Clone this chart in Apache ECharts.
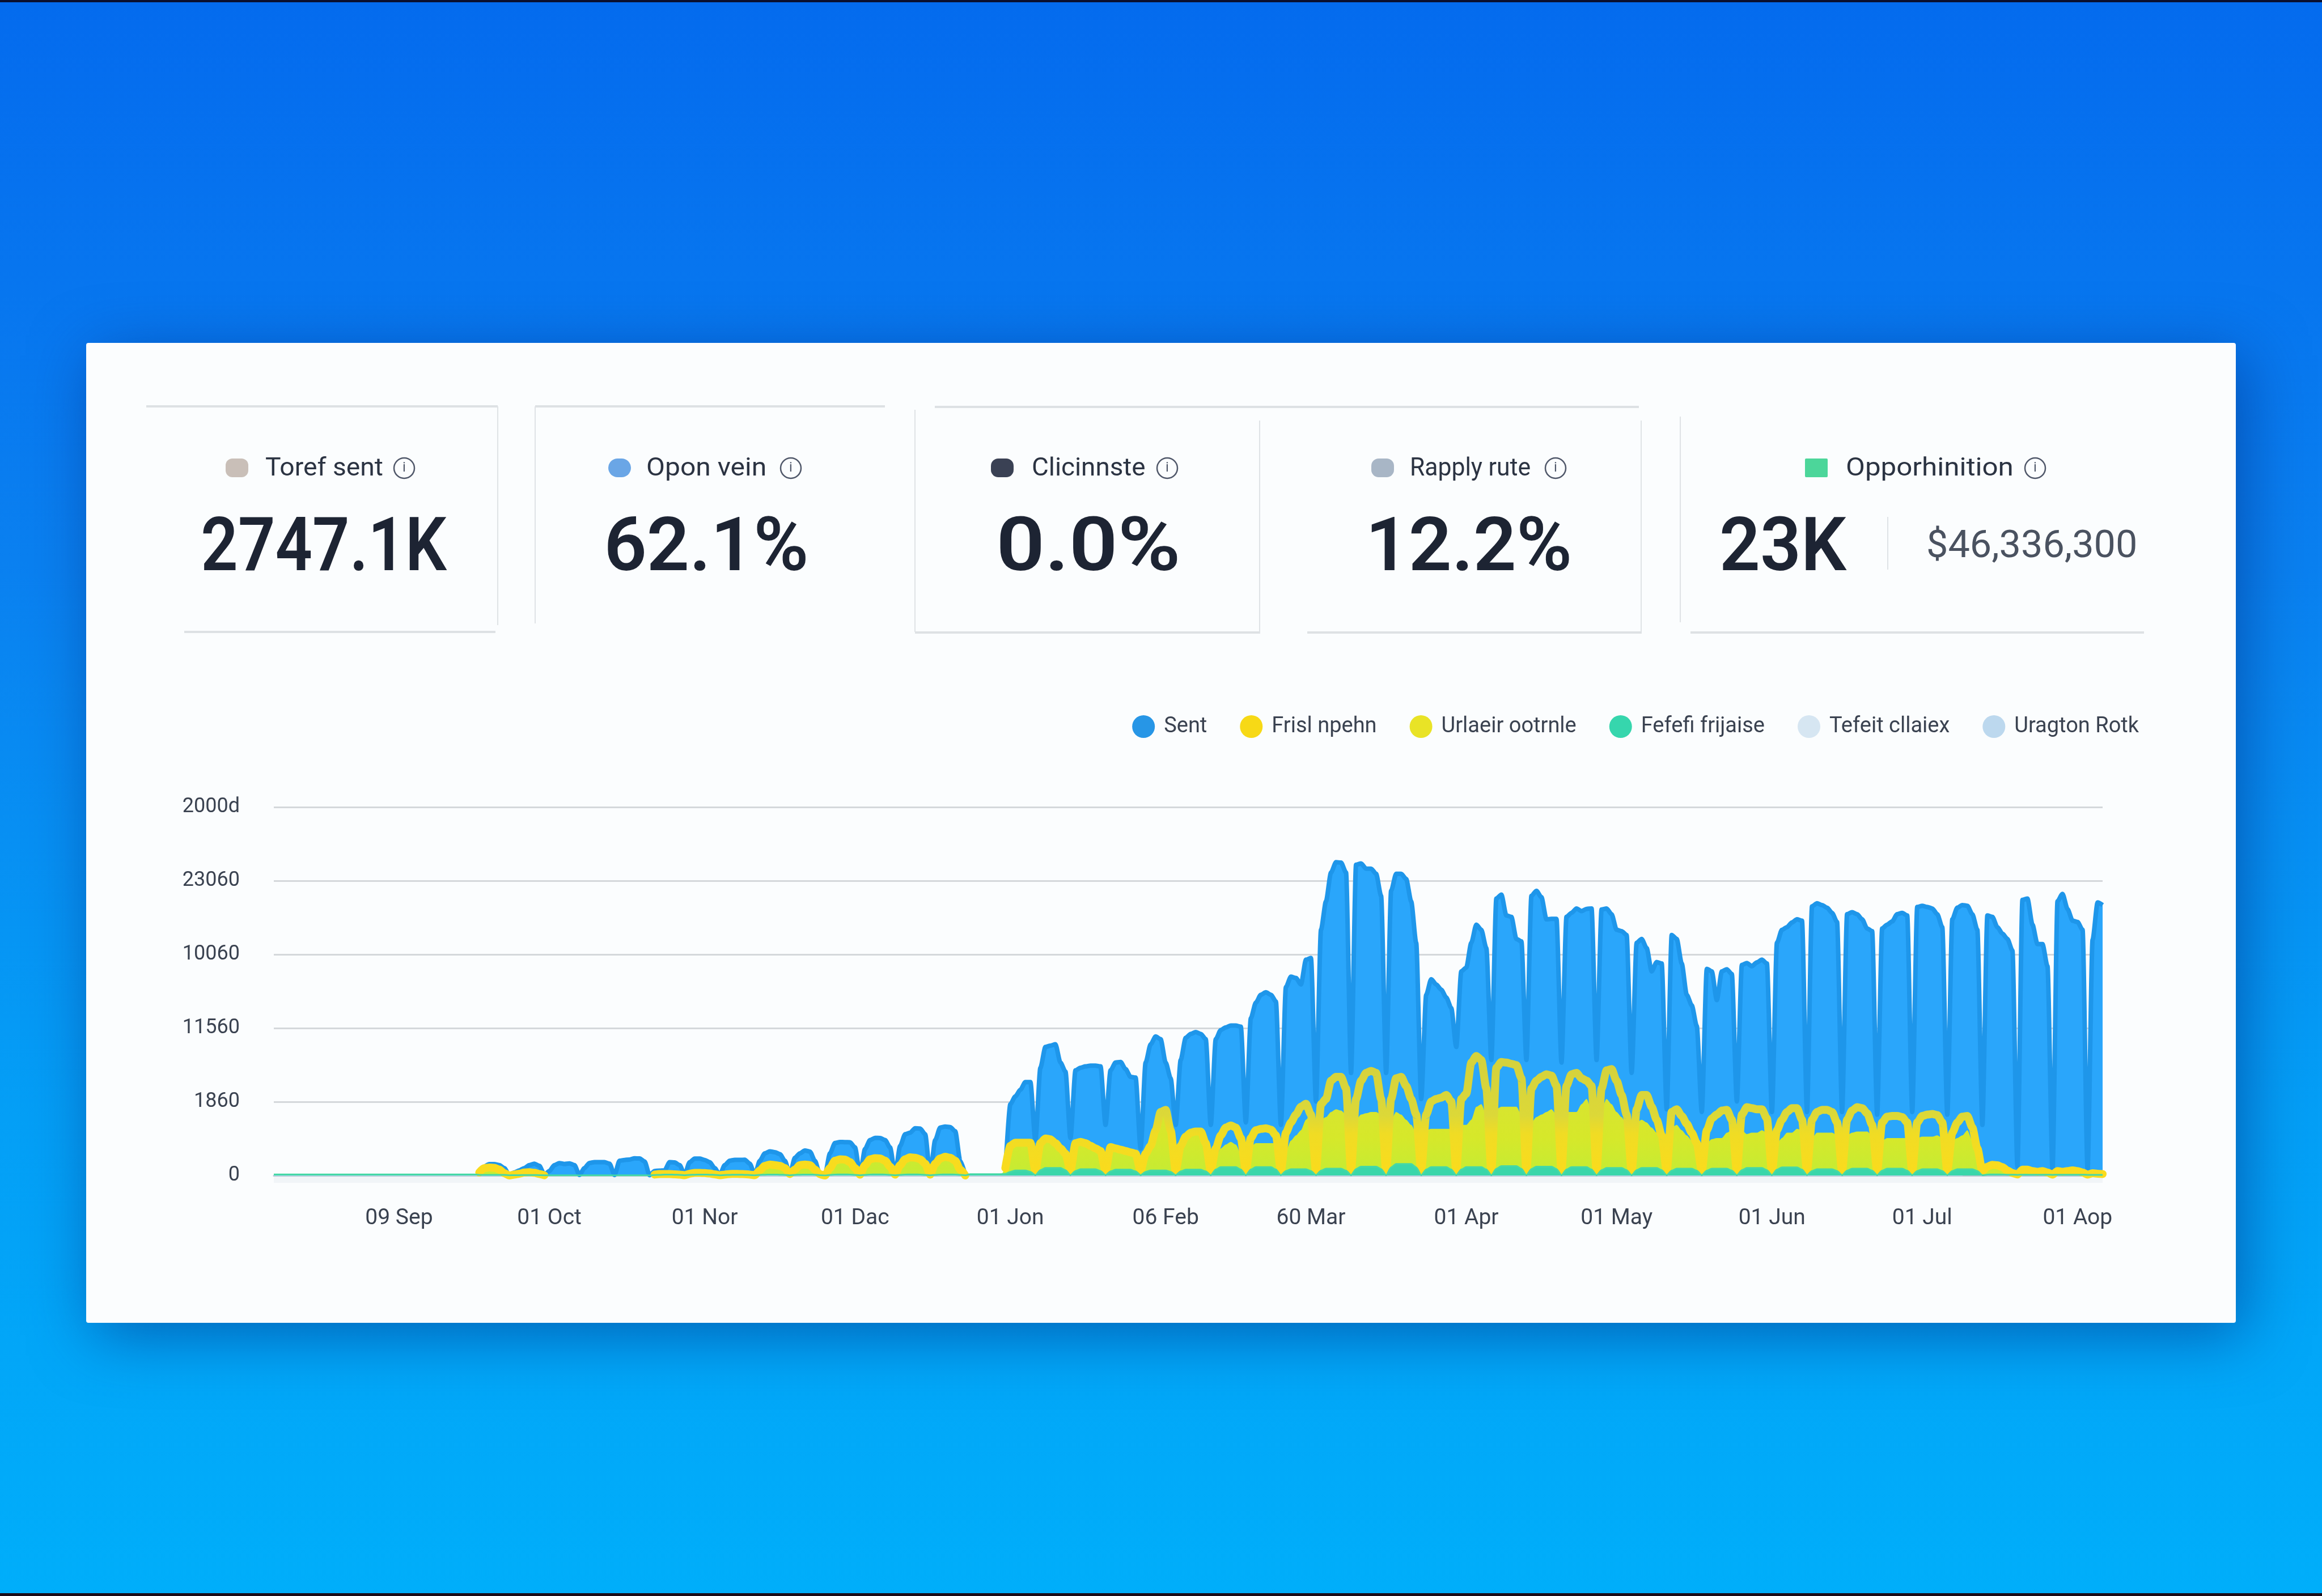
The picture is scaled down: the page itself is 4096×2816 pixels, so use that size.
<!DOCTYPE html>
<html><head><meta charset="utf-8">
<style>html,body{margin:0;padding:0;background:#0a7cf0}#c{width:4096px;height:2816px}</style>
<script src="https://cdn.jsdelivr.net/npm/echarts@6/dist/echarts.min.js"></script>
</head><body><div id="c"></div>
<script>
const yTickLabels = ['0','1860','11560','10060','23060','2000d'];
const xTickLabels = ['09 Sep','01 Oct','01 Nor','01 Dac','01 Jon','06 Feb','60 Mar','01 Apr','01 May','01 Jun','01 Jul','01 Aop'];
const seriesNames = ['Sent','Frisl npehn','Urlaeir ootrnle','Fefefi frijaise','Tefeit cllaiex','Uragton Rotk'];
const tileLabels = ['Toref sent','Opon vein','Clicinnste','Rapply rute','Opporhinition'];
const tileValues = ['2747.1K','62.1%','0.0%','12.2%','23K'];
const tileExtra = '$46,336,300';

const sent = [
null,null,null,null,null,null,
null,null,null,null,null,null,null, null,null,null,null,null,null,null, null,null,null,null,null,null,null, null,null,null,null,null,null,null, null,null,null,null,null,null,null,
150,600,770,770,700,500,30,
200,350,500,700,800,650,50,
300,700,840,780,820,700,40,
500,850,900,905,900,800,30,
1000,1050,1080,1165,1150,950,20,
300,330,350,900,880,700,60,
900,1145,1140,1050,900,500,30,
700,1000,1060,1060,1065,800,40,
1000,1500,1630,1580,1450,1000,80,
1200,1500,1690,1620,1000,50,40,
1500,2200,2270,2260,2250,1900,80,
1800,2400,2550,2540,2400,1900,80,
2000,2800,2900,3200,3180,2800,100,
2400,3250,3320,3280,3000,1000,30,
null,null,null,null,null,null,null,
300,4840,5370,5810,6340,6340,2370,
7310,8720,8810,8900,7660,7050,2540,
7130,7310,7400,7450,7450,7400,3430,
7130,7660,7700,7220,6690,6640,1840,
7660,8900,9430,9250,7660,6600,3430,
7840,9340,9610,9730,9610,9250,3430,
9250,9870,10050,10170,10170,10100,3600,
10670,11730,12260,12430,12260,11810,3430,
12790,13490,13400,12960,14640,14760,5020,
16670,18610,20560,21260,21230,20560,6960,
21090,21170,20820,20820,20470,18970,6960,
19320,20470,20470,20120,18610,15790,5190,
12260,13320,12960,12610,12080,11370,8720,
13850,14110,15790,17020,16670,15430,7840,
18790,19060,17640,17550,16050,15880,7840,
18970,19320,18880,17380,17410,17410,7660,
17550,17820,18120,17940,18090,18120,7840,
18050,18120,17730,16670,16580,16320,6960,
15790,16050,15430,13850,14480,14380,4490,
16320,16050,14380,12260,11550,10140,4310,
14020,13850,11900,13850,13990,13670,5020,
14290,14410,14200,14460,14640,14380,4310,
15790,16670,16850,17170,17380,17290,4310,
18260,18470,18350,18170,17820,17200,4310,
17730,17870,17730,17380,16760,16580,4130,
16760,17020,17240,17730,17820,17640,4310,
18220,18300,18220,18120,17730,16850,4130,
17380,18170,18350,18300,17730,16670,3430,
17640,17550,16850,16410,16050,15260,600,
18700,18790,17020,15700,15700,14200,400,
18610,19110,18080,17290,17200,16670,400,
16000,18530,18350];

const firstOpen = [
null,null,null,null,null,null,
null,null,null,null,null,null,null, null,null,null,null,null,null,null, null,null,null,null,null,null,null, null,null,null,null,null,null,null, null,null,null,null,null,null,null,
200,500,540,520,400,150,0,
60,120,200,220,180,100,10,
null,null,null,null,null,null,null,
null,null,null,null,null,null,null,
null,null,null,null,null,null,null,
60,100,100,100,80,60,20,
120,170,170,160,130,80,20,
60,100,110,100,90,60,20,
350,650,740,700,650,500,100,
400,700,740,700,400,80,0,
500,1000,1100,1080,900,500,60,
700,1100,1170,1150,1000,600,60,
700,1100,1230,1200,1100,800,60,
800,1150,1270,1200,1000,400,0,
null,null,null,null,null,null,null,
500,2010,2225,2225,2225,2225,300,
2190,2510,2455,2190,1840,1480,300,
2190,2280,2190,2010,1840,1660,300,
1925,1840,1750,1660,1570,1480,300,
1480,2010,3070,4310,4450,3070,300,
2010,2630,2900,2985,2985,2190,300,
1840,2720,3250,3390,3250,2540,300,
2540,3070,3160,3200,3110,2720,300,
2900,3600,4130,4660,4870,4130,300,
4840,5190,6430,6690,6690,5900,300,
5190,6430,6960,7100,6960,5190,300,
5190,6600,6690,6080,5190,4130,300,
4130,5020,5190,5280,5460,5020,300,
5190,5550,7660,8110,7840,5900,300,
7310,7700,7660,7580,7490,6600,300,
5900,6430,6690,6870,6780,6080,300,
6080,6870,6960,6600,6430,6080,300,
5900,7130,7220,6430,5460,4130,300,
4490,5460,5460,4660,3780,2720,300,
4310,4490,4040,3510,2900,2190,300,
3070,3870,4130,4400,4450,3780,300,
4130,4630,4570,4490,4490,3870,300,
3070,3780,4310,4570,4570,3780,300,
3780,4310,4450,4450,4310,3600,300,
3780,4400,4630,4570,4220,3430,300,
3600,3990,4040,4040,3960,3600,300,
3600,4040,4130,4170,4100,3600,300,
2900,3600,3990,4040,3250,1840,300,
600,725,690,565,335,160,70,
390,390,300,250,300,200,60,
300,250,300,350,300,200,60,
150,120,100];

const uniqueOpen = [
0,0,0,0,0,0,
0,0,0,0,0,0,0, 0,0,0,0,0,0,0, 0,0,0,0,0,0,0, 0,0,0,0,0,0,0, 0,0,0,0,0,0,0,
180,480,520,500,380,130,0,
50,100,180,200,160,90,0,
10,20,30,30,30,20,0,
20,30,30,30,30,20,0,
20,30,40,40,30,20,0,
50,90,100,90,70,50,10,
110,160,170,150,120,70,10,
50,90,100,90,80,50,10,
340,640,730,690,640,490,80,
390,690,730,690,390,70,0,
490,990,1090,1070,890,490,50,
690,1090,1160,1140,990,590,50,
690,1090,1220,1190,1090,790,50,
790,1140,1260,1190,990,390,0,
0,0,0,0,0,0,0,
400,1900,2200,2200,2200,2200,1130,
2100,2450,2400,2100,1800,1400,780,
2100,2200,2100,1950,1800,1600,1130,
1900,1800,1700,1600,1500,1400,1220,
1400,1950,3000,4250,4400,3000,1840,
1950,2600,2850,2950,2950,2100,1310,
1310,1840,2100,2280,2100,1480,1480,
1950,2190,2190,2190,2190,2190,1220,
1660,2370,2720,3070,3780,4130,3600,
3780,3960,4310,4490,4400,4130,2190,
3780,4130,4220,4310,4310,4130,2720,
3780,4310,4130,3780,3430,2900,2190,
3070,3160,3160,3160,3160,3160,2540,
3430,3430,3780,4660,4840,4130,3430,
4490,4660,4660,4660,4660,4130,1660,
3600,3960,4130,4310,4490,4130,1840,
4310,4310,4310,4840,5190,4490,3070,
4490,5190,4840,4310,3960,3430,2370,
3600,3780,3600,3250,2900,2370,2010,
3250,3430,3070,2720,2370,1840,1480,
2190,2460,2540,2540,2900,3070,2010,
3070,2810,2900,2900,3070,2900,2190,
2190,2540,2900,2900,3160,3070,2010,
2540,2900,2900,2900,2900,2720,2100,
2720,2900,2985,2985,2985,2720,2190,
2370,2540,2540,2540,2540,2540,2010,
2540,2630,2630,2630,2720,2540,2100,
2370,2540,2720,3070,2370,1130,300,
550,650,620,500,300,120,40,
350,350,260,210,260,160,30,
260,210,260,300,260,160,30,
120,90,70];

const firstReply = [
70,70,70,70,70,70,
70,70,70,70,70,70,70, 70,70,70,70,70,70,70, 70,70,70,70,70,70,70, 70,70,70,70,70,70,70, 70,70,70,70,70,70,70,
40,40,40,40,40,40,10,
20,20,30,30,30,20,10,
10,10,10,10,10,10,0,
10,10,10,10,10,10,0,
10,10,10,10,10,10,0,
30,40,60,60,50,40,10,
40,50,60,60,50,40,10,
30,40,50,50,40,30,10,
40,50,60,60,50,40,10,
40,50,60,60,50,20,0,
40,60,70,70,60,40,10,
40,60,70,70,60,40,10,
40,60,70,70,60,40,10,
40,60,70,70,60,40,10,
90,90,90,90,90,90,90,
100,240,335,335,335,240,20,
360,510,510,510,510,360,20,
300,420,420,420,420,300,20,
280,390,390,390,390,280,20,
240,335,335,335,335,240,20,
280,390,390,390,390,280,20,
400,565,565,565,565,400,20,
400,565,565,565,565,400,20,
300,420,420,420,420,300,20,
330,460,460,460,460,330,20,
430,600,600,600,600,430,20,
550,780,780,780,780,550,20,
400,565,565,565,565,400,20,
400,565,565,565,565,400,20,
450,635,635,635,635,450,20,
430,600,600,600,600,430,20,
400,565,565,565,565,400,20,
360,510,510,510,510,360,20,
360,510,510,510,510,360,20,
330,460,460,460,460,330,20,
330,460,460,460,460,330,20,
360,510,510,510,510,360,20,
390,550,550,550,550,390,20,
300,420,420,420,420,300,20,
330,460,460,460,460,330,20,
330,460,460,460,460,330,20,
300,420,420,420,420,300,20,
300,420,420,420,420,300,20,
60,70,70,60,50,50,40,
50,50,50,50,50,50,40,
50,50,50,50,50,50,40,
40,40,40];

const totalClick = [
0,0,0,0,0,0,
0,0,0,0,0,0,0, 0,0,0,0,0,0,0, 0,0,0,0,0,0,0, 0,0,0,0,0,0,0, 0,0,0,0,0,0,0,
0,0,0,0,0,0,0, 0,0,0,0,0,0,0, 0,0,0,0,0,0,0, 0,0,0,0,0,0,0, 0,0,0,0,0,0,0,
0,0,0,0,0,0,0, 0,0,0,0,0,0,0, 0,0,0,0,0,0,0, 0,0,0,0,0,0,0, 0,0,0,0,0,0,0,
0,0,0,0,0,0,0, 0,0,0,0,0,0,0, 0,0,0,0,0,0,0, 0,0,0,0,0,0,0, 0,0,0,0,0,0,0,
0,0,0,0,0,0,0, 0,0,0,0,0,0,0, 0,0,0,0,0,0,0, 0,0,0,0,0,0,0, 0,0,0,0,0,0,0,
0,0,0,0,0,0,0, 0,0,0,0,0,0,0, 0,0,0,0,0,0,0, 0,0,0,0,0,0,0, 0,0,0,0,0,0,0,
0,0,0,0,0,0,0, 0,0,0,0,0,0,0, 0,0,0,0,0,0,0, 0,0,0,0,0,0,0, 0,0,0,0,0,0,0,
0,0,0,0,0,0,0, 0,0,0,0,0,0,0, 0,0,0,0,0,0,0, 0,0,0,0,0,0,0, 0,0,0,0,0,0,0,
0,0,0,0,0,0,0, 0,0,0,0,0,0,0, 0,0,0,0,0,0,0, 0,0,0,0,0,0,0, 0,0,0,0,0,0,0,
0,0,0,0,0,0,0, 0,0,0,0,0,0,0,
0,0,0];
const uniqueClick = totalClick.slice();

/* daily categories */
const categories = [];
for (let d = new Date(Date.UTC(2023,7,7)); categories.length < sent.length; d = new Date(d.getTime()+864e5)) {
  categories.push(d.toISOString().slice(0,10));
}
const tickDates = categories.filter(c => c.endsWith('-01'));

/* page furniture */
const INK = '#1d2433', FONT = 'Roboto';
const g = [];
g.push({type:'rect',z:-20,shape:{x:152,y:605,width:3792,height:1729,r:4},
  style:{fill:'#fbfdfe',shadowBlur:110,shadowColor:'rgba(0,45,130,0.55)',shadowOffsetX:14,shadowOffsetY:22}});
g.push({type:'rect',z:-20,shape:{x:0,y:0,width:4096,height:4},style:{fill:'#0a1030'}});
g.push({type:'rect',z:-20,shape:{x:0,y:2811,width:4096,height:5},style:{fill:'#1a0c18'}});
const hline=(x1,x2,y)=>g.push({type:'line',z:-19,shape:{x1,y1:y,x2,y2:y},style:{stroke:'#dde1e4',lineWidth:4}});
const vline=(x,y1,y2)=>g.push({type:'line',z:-19,shape:{x1:x,y1,x2:x,y2},style:{stroke:'#dfe3e6',lineWidth:2}});
hline(258,878,717);hline(325,874,1115);vline(878,717,1103);
hline(944,1561,717);vline(944,717,1100);
hline(1649,2891,718);vline(1614,723,1115);hline(1614,2222,1116);vline(2222,742,1118);
vline(2895,742,1118);hline(2306,2895,1116);
vline(2964,735,1098);hline(2982,3782,1116);

const tileGeom = [
 {dot:418, text:468, icon:713, big:571, ls:1.05, bs:0.87},
 {dot:1093,text:1140,icon:1395,big:1246,ls:1.09, bs:1.0},
 {dot:1768,text:1820,icon:2059,big:1920,ls:1.04, bs:1.14},
 {dot:2439,text:2487,icon:2744,big:2591,ls:0.97, bs:1.01},
 {dot:3204,text:3256,icon:3590,big:3145,ls:1.12, bs:0.955}
];
const dotStyle = [
 {c:'#c9bfb8',r:12},{c:'#6aa6e6',r:18},{c:'#3a4154',r:13},{c:'#a8b6c6',r:13},{c:'#4cd69a',r:2}
];
tileGeom.forEach((t,i)=>{
  g.push({type:'rect',z:-18,shape:{x:t.dot-20,y:809,width:40,height:33,r:dotStyle[i].r},style:{fill:dotStyle[i].c}});
  g.push({type:'text',z:-18,x:t.text,y:828,scaleX:t.ls,style:{text:tileLabels[i],x:0,y:0,fill:'#2b3342',font:'44px '+FONT,textAlign:'left',textVerticalAlign:'middle'}});
  g.push({type:'circle',z:-18,shape:{cx:t.icon,cy:826,r:18},style:{fill:'none',stroke:'#50586a',lineWidth:2.5}});
  g.push({type:'text',z:-18,style:{text:'i',x:t.icon,y:826,fill:'#50586a',font:'24px '+FONT,textAlign:'center',textVerticalAlign:'middle'}});
  g.push({type:'text',z:-18,x:t.big,y:973,scaleX:t.bs,style:{text:tileValues[i],x:0,y:0,fill:INK,font:'600 132px '+FONT,textAlign:'center',textVerticalAlign:'middle'}});
});
vline(3330,912,1005);
g.push({type:'text',z:-18,x:3398,y:966,scaleX:1.035,style:{text:tileExtra,x:0,y:0,fill:'#4a5260',font:'66px '+FONT,textAlign:'left',textVerticalAlign:'middle'}});
g.push({type:'rect',z:-18,shape:{x:483,y:2074,width:3226,height:13},style:{fill:'#f1f5f8'}});

const lineBase = {type:'line',showSymbol:false,symbol:'none',smooth:0.25,smoothMonotone:'x',animation:false};
const chart = echarts.init(document.getElementById('c'),null,{width:4096,height:2816});
chart.setOption({
  animation:false,
  backgroundColor:{type:'linear',x:0,y:0,x2:0,y2:1,colorStops:[
    {offset:0,color:'#046bee'},{offset:0.35,color:'#0a80f0'},{offset:0.7,color:'#049ff6'},{offset:1,color:'#00aefa'}]},
  graphic:{elements:g},
  grid:{left:483,right:387,top:1424,height:650,containLabel:false},
  legend:{show:true,top:1257,right:318,itemWidth:40,itemHeight:40,itemGap:58,icon:'circle',
    data:seriesNames,
    textStyle:{fontFamily:FONT,fontSize:38,color:'#3a4250',padding:[0,0,0,11]}},
  xAxis:{type:'category',data:categories,boundaryGap:false,offset:13,
    axisTick:{show:false},splitLine:{show:false},
    axisLine:{lineStyle:{color:'#b6c6d2',width:3}},
    axisLabel:{interval:(i,v)=>v.endsWith('-01'),margin:44,
      fontFamily:FONT,fontSize:39,color:'#3a4250',formatter:v=>xTickLabels[tickDates.indexOf(v)]}},
  yAxis:{type:'value',min:0,max:25000,interval:5000,
    axisLine:{show:false},axisTick:{show:false},
    splitLine:{lineStyle:{color:'#d4d8db',width:3}},
    axisLabel:{margin:60,fontFamily:FONT,fontSize:36,color:'#3a4250',formatter:v=>yTickLabels[Math.round(v/5000)]}},
  series:[
    {...lineBase,name:seriesNames[0],data:sent,z:3,itemStyle:{color:'#2796e6'},
      lineStyle:{color:'#1e96ea',width:8},areaStyle:{color:'#2aa6fb',opacity:1}},
    {...lineBase,name:seriesNames[2],data:uniqueOpen,z:4,itemStyle:{color:'#e9e326'},
      lineStyle:{width:0},areaStyle:{opacity:1,color:{type:'linear',x:0,y:0,x2:0,y2:1,colorStops:[
        {offset:0,color:'#d8e430'},{offset:0.5,color:'#d6e82a'},{offset:1,color:'#c4ec34'}]}}},
    {...lineBase,name:seriesNames[1],data:firstOpen,z:5,itemStyle:{color:'#f7d916'},connectNulls:false,
      lineStyle:{width:14,cap:'round',join:'round',color:{type:'linear',global:true,x:0,y:1880,x2:0,y2:2074,colorStops:[
        {offset:0,color:'#d5d23c'},{offset:0.45,color:'#dcd838'},{offset:0.62,color:'#f0dc24'},{offset:1,color:'#fbdb1c'}]}}},
    {...lineBase,name:seriesNames[3],data:firstReply,z:6,itemStyle:{color:'#36d6ad'},
      lineStyle:{color:'#45d8a6',width:3},areaStyle:{color:'#3ad6aa',opacity:1}},
    {...lineBase,name:seriesNames[4],data:totalClick,z:2,itemStyle:{color:'#d6e6f2'},lineStyle:{color:'#d6e6f2',width:2}},
    {...lineBase,name:seriesNames[5],data:uniqueClick,z:2,itemStyle:{color:'#bcd8ee'},lineStyle:{color:'#bcd8ee',width:2}}
  ]
});
</script></body></html>
